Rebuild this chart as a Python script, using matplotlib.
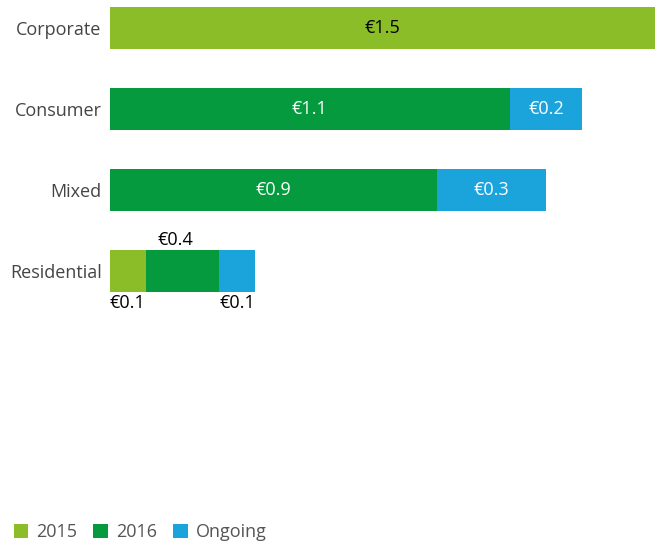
import matplotlib
matplotlib.use("Agg")
import matplotlib.pyplot as plt
from matplotlib.patches import Patch

plt.rcParams['font.family'] = ['Open Sans', 'DejaVu Sans']

# data
categories = ['Corporate', 'Consumer', 'Mixed', 'Residential']
series = ['2015', '2016', 'Ongoing']
vals_2015 = [1.5, 0.0, 0.0, 0.1]
vals_2016 = [0.0, 1.1, 0.9, 0.2]
vals_ongoing = [0.0, 0.2, 0.3, 0.1]
labels_2015 = ['€1.5', '', '', '€0.1']
labels_2016 = ['', '€1.1', '€0.9', '€0.4']
labels_ongoing = ['', '€0.2', '€0.3', '€0.1']
colors = ['#8bbd28', '#059a3e', '#1ba3dc']

FS = 13

fig = plt.figure(figsize=(6.7, 5.44), dpi=100)
ax = fig.add_axes([110 / 670, 1 - 320 / 544, 545 / 670, 320 / 544])

ys = list(range(len(categories)))
bar_h = 0.52
lefts = [0.0] * len(categories)
all_vals = [vals_2015, vals_2016, vals_ongoing]
all_labels = [labels_2015, labels_2016, labels_ongoing]
txt_colors = ['black', 'white', 'white']

for k, (vals, labs) in enumerate(zip(all_vals, all_labels)):
    ax.barh(ys, vals, left=lefts, height=bar_h, color=colors[k], linewidth=0)
    for i, (v, lab) in enumerate(zip(vals, labs)):
        if not lab:
            continue
        if categories[i] == 'Residential':
            # small segments: labels outside the bar
            if k == 0:
                ax.text(lefts[i], ys[i] + bar_h / 2 + 0.02, lab, ha='left', va='top',
                        fontsize=FS, color='black')
            elif k == 1:
                ax.text(lefts[i] + v / 2 - 0.02, ys[i] - bar_h / 2 - 0.02, lab,
                        ha='center', va='bottom', fontsize=FS, color='black')
            else:
                ax.text(lefts[i] + v, ys[i] + bar_h / 2 + 0.02, lab, ha='right', va='top',
                        fontsize=FS, color='black')
        else:
            ax.text(lefts[i] + v / 2, ys[i], lab, ha='center', va='center',
                    fontsize=FS, color=txt_colors[k])
    lefts = [l + v for l, v in zip(lefts, vals)]

ax.set_xlim(0, 1.5)
ax.set_ylim(3.6, -28 / 81)
ax.set_yticks(ys)
ax.set_yticklabels(categories, fontsize=FS, color='#444444')
ax.tick_params(axis='y', length=0, pad=6)
ax.set_xticks([])
for s in ax.spines.values():
    s.set_visible(False)

handles = [Patch(facecolor=c, edgecolor='none') for c in colors]
fig.legend(handles, series, loc='lower left', bbox_to_anchor=(-0.004, -0.025), ncol=3,
           frameon=False, fontsize=FS, labelcolor='#555555', handlelength=0.8,
           handleheight=0.8, handletextpad=0.45, columnspacing=0.9)

fig.savefig('out.png', dpi=100)
